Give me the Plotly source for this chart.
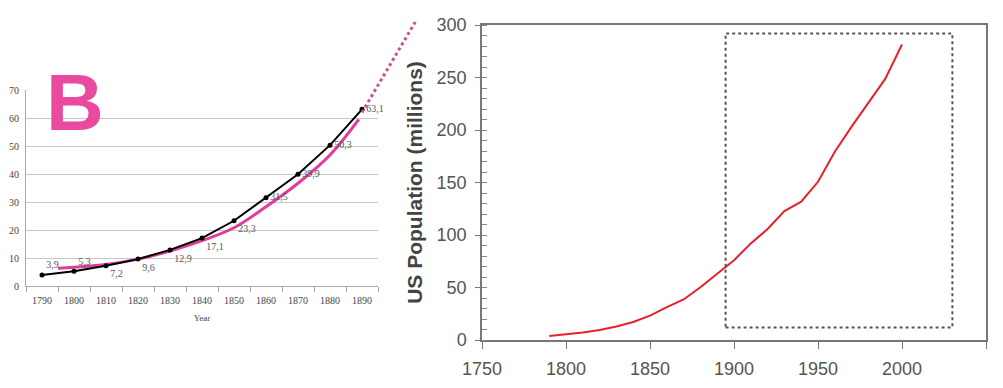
import plotly.graph_objects as go

# ---- left panel data (1790-1890 census, millions) ----
years_left = [1790, 1800, 1810, 1820, 1830, 1840, 1850, 1860, 1870, 1880, 1890]
pop_left = [3.9, 5.3, 7.2, 9.6, 12.9, 17.1, 23.3, 31.5, 39.9, 50.3, 63.1]
pop_labels = ["3,9", "5,3", "7,2", "9,6", "12,9", "17,1", "23,3", "31,5", "39,9", "50,3", "63,1"]
left_xticks = [1790, 1800, 1810, 1820, 1830, 1840, 1850, 1860, 1870, 1880, 1890]
left_yticks = [0, 10, 20, 30, 40, 50, 60, 70]

# fitted (magenta) curve
fit_years = [1795, 1800, 1810, 1820, 1830, 1840, 1850, 1860, 1870, 1880, 1889]
fit_values = [6.3, 6.7, 7.7, 9.6, 12.5, 16.2, 20.8, 28.3, 36.7, 46.8, 59.5]

# dotted extrapolation
ext_years = [1890, 1907]
ext_values = [62, 95]

# ---- right panel data ----
census_years = [1790, 1800, 1810, 1820, 1830, 1840, 1850, 1860, 1870, 1880, 1890,
                1900, 1910, 1920, 1930, 1940, 1950, 1960, 1970, 1980, 1990, 2000]
census_pop = [3.9, 5.3, 7.2, 9.6, 12.9, 17.1, 23.2, 31.4, 38.6, 50.2, 62.9,
              76.0, 92.0, 105.7, 122.8, 131.7, 150.7, 179.3, 203.2, 226.5, 248.7, 281.4]
right_xticks = [1750, 1800, 1850, 1900, 1950, 2000, 2050]
right_yticks = [0, 50, 100, 150, 200, 250, 300]
box_years = [1895, 2030]
box_values = [12, 292]

W, H = 1003, 388
# pixel geometry
L_x0, L_x1, L_ybot, L_ytop = 26, 378, 286, 90
R_x0, R_x1, R_ybot, R_ytop = 482, 986, 340, 25

l_xrange = [1785, 1895]
l_yrange = [0, 70]
px_per_year = (L_x1 - L_x0) / (l_xrange[1] - l_xrange[0])
px_per_unit = (L_ybot - L_ytop) / (l_yrange[1] - l_yrange[0])
ov_x1 = 440
ov_xrange = [l_xrange[0], l_xrange[0] + (ov_x1 - L_x0) / px_per_year]
ov_yrange = [0, L_ybot / px_per_unit]

fig = go.Figure()

serif = "Liberation Serif"
sans = "Liberation Sans"

fig.add_trace(go.Scatter(
    x=fit_years, y=fit_values, mode="lines", line=dict(color="#e03c98", width=3, shape="spline"),
    xaxis="x", yaxis="y", showlegend=False))

fig.add_trace(go.Scatter(
    x=years_left, y=pop_left, mode="lines+markers+text",
    line=dict(color="black", width=2), marker=dict(color="black", size=5),
    text=pop_labels,
    textposition=["top right", "top right", "bottom right", "bottom right", "bottom right",
                  "bottom right", "bottom right", "middle right", "middle right",
                  "middle right", "middle right"],
    textfont=dict(family=serif, size=10, color="#555"),
    xaxis="x", yaxis="y", showlegend=False, cliponaxis=False))

fig.add_trace(go.Scatter(
    x=ext_years, y=ext_values, mode="lines", line=dict(color="#d0508f", width=3, dash="dot"),
    xaxis="x3", yaxis="y3", showlegend=False))

fig.add_trace(go.Scatter(
    x=census_years, y=census_pop, mode="lines", line=dict(color="#e8202c", width=2),
    xaxis="x2", yaxis="y2", showlegend=False))

fig.add_shape(type="rect", xref="x2", yref="y2",
              x0=box_years[0], x1=box_years[1], y0=box_values[0], y1=box_values[1],
              line=dict(color="#555", width=2, dash="dot"))

fig.update_layout(
    width=W, height=H, margin=dict(l=0, r=0, t=0, b=0, autoexpand=False),
    paper_bgcolor="white", plot_bgcolor="rgba(0,0,0,0)",
    xaxis=dict(domain=[L_x0 / W, L_x1 / W], range=l_xrange, tickvals=left_xticks,
               ticks="", showgrid=False, showline=True, linecolor="#aaa", linewidth=1,
               tickfont=dict(family=serif, size=10, color="#444"), zeroline=False,
               ticklabelstandoff=5,
               minor=dict(tick0=1785, dtick=10, ticks="outside", ticklen=5, tickcolor="#aaa",
                          showgrid=False),
               title=dict(text="Year", font=dict(family=serif, size=9, color="#444"), standoff=9),
               anchor="y", automargin=False),
    yaxis=dict(domain=[(H - L_ybot) / H, (H - L_ytop) / H], range=l_yrange, tickvals=left_yticks,
               showgrid=True, gridcolor="#c8c8c8", gridwidth=1, zeroline=False,
               showline=True, linecolor="#aaa", ticks="", ticklabelstandoff=4,
               tickfont=dict(family=serif, size=10, color="#444"), anchor="x", automargin=False),
    xaxis3=dict(domain=[L_x0 / W, ov_x1 / W], range=ov_xrange, visible=False, anchor="y3",
                automargin=False),
    yaxis3=dict(domain=[(H - L_ybot) / H, 1], range=ov_yrange, visible=False, anchor="x3",
                automargin=False),
    xaxis2=dict(domain=[R_x0 / W, R_x1 / W], range=[1750, 2050], tickvals=right_xticks,
                showgrid=False, zeroline=False, showline=True, mirror=True,
                linecolor="#777", linewidth=1.5, ticks="outside", ticklen=7, tickcolor="#777",
                ticklabelstandoff=5,
                tickfont=dict(family=sans, size=18, color="#555"), anchor="y2", automargin=False),
    yaxis2=dict(domain=[(H - R_ybot) / H, (H - R_ytop) / H], range=[0, 300], tickvals=right_yticks,
                showgrid=False, zeroline=False, showline=True, mirror=True,
                linecolor="#777", linewidth=1.5, ticks="outside", ticklen=5, tickcolor="#777",
                ticklabelstandoff=5,
                minor=dict(dtick=10, ticks="inside", ticklen=5, tickcolor="#888", showgrid=False),
                tickfont=dict(family=sans, size=18, color="#555"),
                title=dict(text="<b>US Population (millions)</b>",
                           font=dict(family=sans, size=21, color="#444"), standoff=8),
                anchor="x2", automargin=False),
)

fig.add_annotation(text="<b>B</b>", xref="paper", yref="paper", x=75 / W, y=(H - 102.5) / H,
                   xanchor="center", yanchor="middle", showarrow=False,
                   font=dict(family=sans, size=80, color="#ea4a9e"))

fig.write_html("out.html", post_script="document.body.style.margin='0';",
               config={"displayModeBar": False})
